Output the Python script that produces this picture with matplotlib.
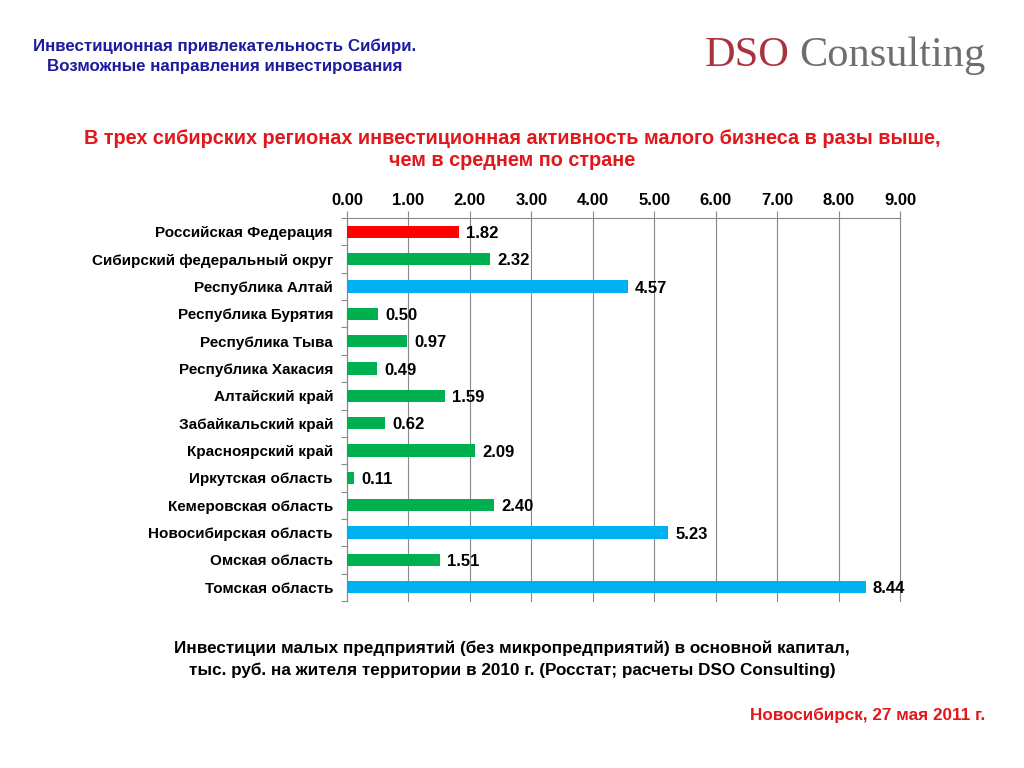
import matplotlib
matplotlib.use("Agg")
import matplotlib.pyplot as plt
from matplotlib import font_manager

categories = ["Российская Федерация", "Сибирский федеральный округ", "Республика Алтай",
              "Республика Бурятия", "Республика Тыва", "Республика Хакасия",
              "Алтайский край", "Забайкальский край", "Красноярский край",
              "Иркутская область", "Кемеровская область", "Новосибирская область",
              "Омская область", "Томская область"]
values = [1.82, 2.32, 4.57, 0.50, 0.97, 0.49, 1.59, 0.62, 2.09, 0.11, 2.40, 5.23, 1.51, 8.44]
groups = ["rf", "sfo", "top", "reg", "reg", "reg", "reg", "reg", "reg", "reg", "reg", "top", "reg", "top"]
tick_values = [0, 1, 2, 3, 4, 5, 6, 7, 8, 9]

palette = {"rf": "#FF0000", "sfo": "#00B050", "reg": "#00B050", "top": "#00B0F0"}

avail = {f.name for f in font_manager.fontManager.ttflist}
fam = ["Liberation Sans Narrow", "Liberation Sans", "DejaVu Sans"]
fam = [f for f in fam if f in avail] + ["DejaVu Sans"]
plt.rcParams['font.family'] = fam

fig = plt.figure(figsize=(10.24, 7.68), dpi=100)
ax = fig.add_axes([347/1024, 1-601/768, (900-347)/1024, (601-218)/768])

n = len(categories)
ypos = list(range(n))
ax.barh(ypos, values, height=0.45, color=[palette[g] for g in groups], zorder=3)
for y, v in zip(ypos, values):
    ax.text(v + 0.12, y + 0.06, f"{v:.2f}", va="center", ha="left", fontsize=12,
            fontweight="bold", color="black", zorder=4)

ax.set_xlim(0, 9)
ax.set_ylim(n - 0.5, -0.5)
ax.xaxis.tick_top()
ax.set_xticks(tick_values)
ax.set_xticklabels([f"{t:.2f}" for t in tick_values], fontsize=12, fontweight="bold")
ax.tick_params(axis="x", length=5, color="#888888", width=0.8, pad=2)
ax.set_yticks(ypos)
ax.set_yticklabels(categories, fontsize=11, fontweight="bold")
ax.tick_params(axis="y", length=0, pad=10)
ax.set_yticks([i - 0.5 for i in range(n + 1)], minor=True)
ax.tick_params(axis="y", which="minor", length=4, color="#888888", width=0.8)
for t in tick_values:
    ax.axvline(t, color="#888888", linewidth=0.8, zorder=0, clip_on=False)
for s in ["right", "bottom"]:
    ax.spines[s].set_visible(False)
ax.spines["top"].set_color("#888888")
ax.spines["left"].set_color("#888888")
ax.spines["top"].set_linewidth(0.8)
ax.spines["left"].set_linewidth(0.8)

navy = "#1C1C9C"
fig.text(225/1024, 1-46/768, "Инвестиционная привлекательность Сибири.", ha="center", va="center",
         fontsize=12.2, fontweight="bold", color=navy)
fig.text(225/1024, 1-66/768, "Возможные направления инвестирования", ha="center", va="center",
         fontsize=12.2, fontweight="bold", color=navy)

serif = ["Liberation Serif", "DejaVu Serif"]
t1 = fig.text(705/1024, 1-56/768, "DSO", ha="left", va="center", fontsize=30.5,
              color="#A8333F", family=serif)
fig.canvas.draw()
bb = t1.get_window_extent()
fig.text((bb.x1 + 9)/1024, 1-56/768, "Consulting", ha="left", va="center", fontsize=30.5,
         color="#6E6E6E", family=serif)

red = "#E3171B"
fig.text(512/1024, 1-138/768, "В трех сибирских регионах инвестиционная активность малого бизнеса в разы выше,",
         ha="center", va="center", fontsize=14.3, fontweight="bold", color=red)
fig.text(512/1024, 1-161/768, "чем в среднем по стране", ha="center", va="center",
         fontsize=14.3, fontweight="bold", color=red)

fig.text(512/1024, 1-648/768, "Инвестиции малых предприятий (без микропредприятий) в основной капитал,",
         ha="center", va="center", fontsize=12.3, fontweight="bold", color="black")
fig.text(512/1024, 1-670/768, "тыс. руб. на жителя территории в 2010 г. (Росстат; расчеты DSO Consulting)",
         ha="center", va="center", fontsize=12.3, fontweight="bold", color="black")

fig.text(985/1024, 1-715/768, "Новосибирск, 27 мая 2011 г.", ha="right", va="center",
         fontsize=12.3, fontweight="bold", color=red)

fig.savefig("out.png", dpi=100, facecolor="white")
